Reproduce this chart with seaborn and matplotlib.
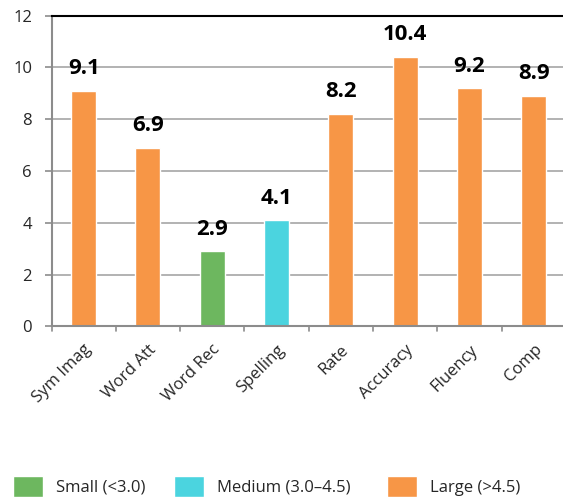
import matplotlib
matplotlib.use("Agg")
import matplotlib.pyplot as plt
import seaborn as sns
import pandas as pd
from matplotlib.patches import Patch

categories = ["Sym Imag", "Word Att", "Word Rec", "Spelling", "Rate", "Accuracy", "Fluency", "Comp"]
values = [9.1, 6.9, 2.9, 4.1, 8.2, 10.4, 9.2, 8.9]
groups = ["Large (>4.5)", "Large (>4.5)", "Small (<3.0)", "Medium (3.0\u20134.5)",
          "Large (>4.5)", "Large (>4.5)", "Large (>4.5)", "Large (>4.5)"]
legend_order = ["Small (<3.0)", "Medium (3.0\u20134.5)", "Large (>4.5)"]
colors = {"Small (<3.0)": "#6DB75F", "Medium (3.0\u20134.5)": "#4BD4DF", "Large (>4.5)": "#F79646"}
yticks = [0, 2, 4, 6, 8, 10, 12]

df = pd.DataFrame({"cat": categories, "val": values, "grp": groups})

sns.set_theme(style="white")
plt.rcParams["font.family"] = ["Open Sans", "DejaVu Sans"]

W, H = 563, 497
fig = plt.figure(figsize=(W / 100, H / 100), dpi=100)
left_px, top_px, bot_px = 51.5, 15.7, 326.3
ax = fig.add_axes([left_px / W, 1 - bot_px / H, 1 - left_px / W, (bot_px - top_px) / H])

sns.barplot(data=df, x="cat", y="val", hue="grp", palette=colors, dodge=False,
            width=0.39, ax=ax, legend=False, saturation=1)

cat_w = 64.3
ax.set_ylim(0, 12)
ax.set_yticks(yticks)
ax.set_xlim(-0.5, -0.5 + (W - left_px) / cat_w)
ax.yaxis.grid(True, color="#A6A6A6", linewidth=1.2)
ax.set_axisbelow(True)
ax.set_xlabel("")
ax.set_ylabel("")

ax.spines["right"].set_visible(False)
ax.spines["top"].set_color("black")
ax.spines["top"].set_linewidth(1.5)
ax.spines["left"].set_color("#8C8C8C")
ax.spines["left"].set_linewidth(1.5)
ax.spines["bottom"].set_color("#8C8C8C")
ax.spines["bottom"].set_linewidth(1.5)

ax.tick_params(axis="y", labelsize=12, length=5, color="#8C8C8C", width=1.2, left=True, pad=9)
ax.set_xticks(range(len(categories)))
ax.set_xticklabels(categories, rotation=45, ha="right", rotation_mode="anchor", fontsize=12)
ax.tick_params(axis="x", length=0, pad=11)
for b in [i - 0.5 for i in range(len(categories) + 1)]:
    ax.plot([b, b], [0, -0.2], color="#8C8C8C", lw=1.2, clip_on=False)

for i, v in enumerate(values):
    ax.annotate(f"{v:.1f}", (i, v), xytext=(0, 12), textcoords="offset points",
                ha="center", va="baseline", fontsize=16, fontweight="bold", color="black")

legend_x_px = [13, 174, 387]
for g, xp in zip(legend_order, legend_x_px):
    fig.legend(handles=[Patch(facecolor=colors[g], label=g)], loc="lower left",
               bbox_to_anchor=(xp / W, 0.0), frameon=False, fontsize=12,
               handlelength=1.8, handleheight=1.56, handletextpad=0.8,
               borderpad=0, borderaxespad=0)

fig.savefig("out.png", dpi=100)
